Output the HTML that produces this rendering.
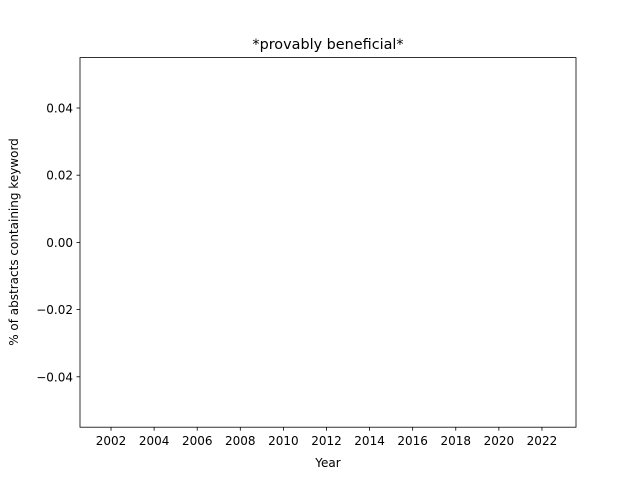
<!DOCTYPE html>
<html><head><meta charset="utf-8"><style>
html,body{margin:0;padding:0;background:#fff;}
svg text{font-family:"DejaVu Sans","Liberation Sans",sans-serif;fill:#000;}
</style></head><body>
<svg id="chart" width="640" height="480" viewBox="0 0 640 480">
<rect x="0" y="0" width="640" height="480" fill="#fff"/>
<text x="328" y="49" font-size="14.4" text-anchor="middle">*provably beneficial*</text>
<g id="marks"></g>
<rect x="80" y="57.6" width="496" height="369.6" fill="none" stroke="#000" stroke-width="0.8"/>
<g id="xticks"></g><g id="yticks"></g>
<text x="328" y="467" font-size="12" text-anchor="middle">Year</text>
<text transform="translate(18,242) rotate(-90)" font-size="12" text-anchor="middle">% of abstracts containing keyword</text>
</svg>
<script>
const xTickYears = [2002,2004,2006,2008,2010,2012,2014,2016,2018,2020,2022];
const yTickValues = [-0.04,-0.02,0.00,0.02,0.04];
const yTickLabels = ["\u22120.04","\u22120.02","0.00","0.02","0.04"];
const years = [];
const values = [];
const NS="http://www.w3.org/2000/svg";
const x0=80,x1=576,y0=427.2,y1=57.6;
const xMin=2000.56,xMax=2023.58,yMin=-0.055,yMax=0.055;
function xs(v){return x0+(v-xMin)/(xMax-xMin)*(x1-x0);}
function ys(v){return y0-(v-yMin)/(yMax-yMin)*(y0-y1);}
function mk(t,a,p){const e=document.createElementNS(NS,t);for(const k in a)e.setAttribute(k,a[k]);p.appendChild(e);return e;}
const xg=document.getElementById('xticks');
xTickYears.forEach(v=>{
  const x=xs(v);
  const l=mk('line',{x1:x,x2:x,y1:y0,y2:y0+3.5,stroke:'#000','stroke-width':0.8},xg);
  
  
  const t=mk('text',{x:x,y:y0+18,'font-size':12,'text-anchor':'middle'},xg);
  t.textContent=v;
  
  
});
const yg=document.getElementById('yticks');
yTickValues.forEach((v,i)=>{
  const y=ys(v);
  const l=mk('line',{x1:x0-3.5,x2:x0,y1:y,y2:y,stroke:'#000','stroke-width':0.8},yg);
  
  
  const t=mk('text',{x:x0-7,y:y+4.5,'font-size':12,'text-anchor':'end'},yg);
  t.textContent=yTickLabels[i];
  
  
});
const mg=document.getElementById('marks');
years.forEach((yr,i)=>{
  const b=mk('rect',{x:xs(yr-0.4),width:xs(yr+0.4)-xs(yr-0.4),y:Math.min(ys(values[i]),ys(0)),height:Math.abs(ys(values[i])-ys(0)),fill:'#1f77b4'},mg);
  
  
});
</script>
</body></html>
